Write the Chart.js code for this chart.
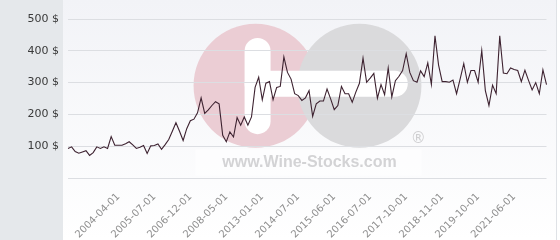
<!DOCTYPE html>
<html>
<head>
<meta charset="utf-8">
<script src="https://cdn.jsdelivr.net/npm/chart.js@4.4.1/dist/chart.umd.min.js"></script>
<style>
  html, body { margin: 0; padding: 0; }
  body {
    width: 560px; height: 240px; overflow: hidden;
    background:
      linear-gradient(to right, #e5e8eb 0, #e5e8eb 63px, transparent 63px, transparent 556px, #dfe2e6 556px, #dfe2e6 557px, #ffffff 557px),
      linear-gradient(to bottom, #f2f3f7, #ffffff);
  }
</style>
</head>
<body>
<canvas id="chart" width="560" height="240"></canvas>
<script>
// price history (USD), one value per quotation
const prices = [
  93, 98, 83, 78, 82, 86, 71, 80, 98, 93,
  98, 93, 130, 103, 103, 103, 108, 114, 104, 93,
  97, 102, 77, 101, 102, 107, 90, 105, 121, 147,
  174, 147, 118, 155, 180, 185, 205, 252, 203, 214,
  228, 240, 233, 134, 114, 145, 129, 190, 166, 192,
  166, 192, 285, 317, 246, 298, 303, 246, 285, 288,
  381, 332, 311, 265, 259, 244, 252, 275, 194, 233,
  242, 242, 280, 249, 215, 228, 288, 265, 265, 238,
  270, 298, 377, 301, 314, 329, 251, 294, 262, 346,
  255, 306, 320, 338, 391, 332, 306, 301, 337, 319,
  362, 294, 447, 355, 303, 303, 301, 308, 265, 312,
  360, 301, 338, 338, 301, 401, 275, 228, 292, 265,
  447, 330, 328, 346, 341, 338, 303, 339, 307, 277,
  300, 265, 340, 294
];

// dates shown on the x axis, every 10th quotation starting at the 15th
const tickLabels = [
  '2004-04-01', '2005-07-01', '2006-12-01', '2008-05-01', '2013-01-01', '2014-07-01',
  '2015-06-01', '2016-07-01', '2017-10-01', '2018-11-01', '2019-10-01', '2021-06-01'
];
const firstTick = 14;
const tickStep = 10;

const yTicks = [0, 100, 200, 300, 400, 500];

const categories = prices.map((p, i) => {
  const k = (i - firstTick) / tickStep;
  return (Number.isInteger(k) && k >= 0 && k < tickLabels.length) ? tickLabels[k] : '';
});

// watermark logo, drawn under the grid
const logoPlugin = {
  id: 'logo',
  beforeDraw(chart) {
    const a = chart.chartArea;
    const ctx = chart.ctx;
    const w = a.right - a.left, h = a.bottom - a.top;
    const cy = a.top + h * 0.42;
    const r = h * 0.39;
    const c1 = a.left + w * 0.392;
    const c2 = a.left + w * 0.609;
    ctx.save();

    // pale box behind the url
    ctx.fillStyle = 'rgba(255,255,255,0.55)';
    ctx.fillRect(a.left + w * 0.266, a.top + h * 0.82, w * 0.473, h * 0.165);

    ctx.fillStyle = '#ebcdd4';
    ctx.beginPath(); ctx.arc(c1, cy, r, 0, Math.PI * 2); ctx.fill();
    ctx.fillStyle = '#dadadc';
    ctx.beginPath(); ctx.arc(c2, cy, r, 0, Math.PI * 2); ctx.fill();

    // white bars ("+" and "-")
    const bw = 13;
    ctx.fillStyle = '#ffffff';
    ctx.beginPath();
    ctx.roundRect(c1 + 2 - bw, cy - r * 0.77, bw * 2, r * 1.55, bw);
    ctx.fill();
    ctx.beginPath();
    ctx.roundRect(c1 + 2 - bw, cy - 2 - bw, (c2 + r * 0.78) - (c1 + 2 - bw), bw * 2, bw);
    ctx.fill();

    ctx.fillStyle = '#d3d3d5';
    ctx.font = 'bold 16px "Liberation Sans", Arial, sans-serif';
    ctx.textAlign = 'center';
    ctx.textBaseline = 'middle';
    ctx.fillText('www.Wine-Stocks.com', (c1 + c2) / 2 + 2, a.top + h * 0.905);

    ctx.fillStyle = '#cfcfd1';
    ctx.font = '15px "DejaVu Sans", sans-serif';
    ctx.fillText('®', c2 + r * 0.95, a.top + h * 0.755);
    ctx.restore();
  }
};

new Chart(document.getElementById('chart'), {
  type: 'line',
  data: {
    labels: categories,
    datasets: [{
      label: 'Price',
      data: prices,
      borderColor: '#3d2230',
      borderWidth: 1.1,
      pointRadius: 0,
      tension: 0,
      fill: false
    }]
  },
  options: {
    responsive: false,
    animation: false,
    layout: { padding: { top: 19, right: 6, bottom: 0, left: 0 } },
    plugins: {
      legend: { display: false },
      tooltip: { enabled: false }
    },
    scales: {
      x: {
        type: 'category',
        grid: { display: false },
        border: { display: false },
        ticks: {
          autoSkip: false,
          minRotation: 45,
          maxRotation: 45,
          padding: 5,
          color: '#8e8e8e',
          font: { family: 'DejaVu Sans', size: 10 }
        },
        afterFit(s) { s.height = 62; }
      },
      y: {
        min: 0,
        max: 500,
        afterBuildTicks(s) { s.ticks = yTicks.map(v => ({ value: v })); },
        grid: { color: '#dcdee2', lineWidth: 1, drawTicks: false },
        border: { display: false },
        ticks: {
          padding: 9,
          color: '#3a3a3a',
          font: { family: 'DejaVu Sans', size: 11 },
          callback: v => v === 0 ? '' : v + ' $'
        },
        afterFit(s) { s.width = 68; }
      }
    }
  },
  plugins: [logoPlugin]
});
</script>
</body>
</html>
